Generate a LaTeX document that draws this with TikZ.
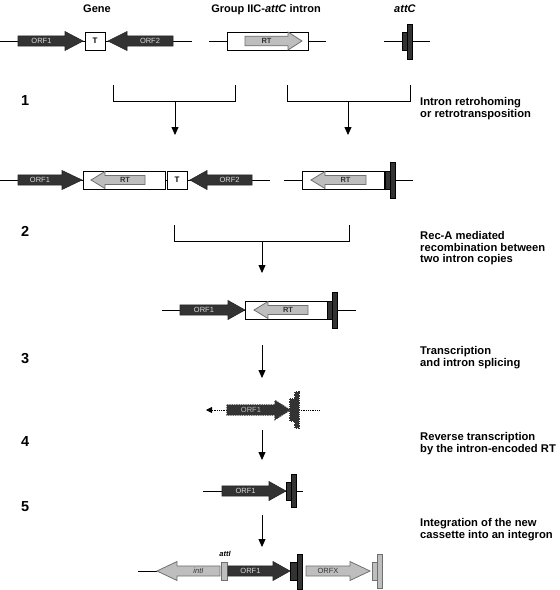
\documentclass[tikz,border=0pt]{standalone}
\usepackage{fontspec}
\setmainfont{Liberation Sans}
\usetikzlibrary{arrows.meta}
\definecolor{dark}{HTML}{333333}
\definecolor{light}{HTML}{BEBEBE}
\definecolor{lightline}{HTML}{707070}
\tikzset{
  dna/.style={black,line width=0.8pt},
  orfdk/.style={draw=black!85,fill=dark,line width=0.6pt},
  orfdklbl/.style={text=white!85!black,font=\fontsize{7.5}{8}\selectfont,inner sep=0},
  orflt/.style={draw=lightline,fill=light,line width=0.8pt},
  orfltlbl/.style={text=black!80,font=\fontsize{7.5}{8}\selectfont,inner sep=0},
  orfdot/.style={draw=dark,fill=dark,line width=1.3pt,densely dotted},
  orfdotlbl/.style={text=white!75!black,font=\fontsize{7.5}{8}\selectfont,inner sep=0},
  dkbar/.style={draw=black,fill=dark,line width=0.6pt},
  ltbar/.style={draw=lightline,fill=light,line width=0.8pt},
  dotbar/.style={draw=dark,fill=dark,line width=1.3pt,densely dotted},
  intronbox/.style={draw=black,fill=white,line width=0.8pt},
  tbox/.style={draw=black,fill=white,line width=0.8pt,minimum width=20pt,minimum height=18pt,
               inner sep=0,font=\fontsize{8}{8}\selectfont\bfseries},
  steparr/.style={-{Triangle[length=8pt,width=7pt]},black,line width=0.8pt},
  bracket/.style={black,line width=0.8pt},
  head/.style={font=\fontsize{11}{12}\selectfont\bfseries,anchor=base},
  stepnum/.style={font=\fontsize{14.5}{15}\selectfont\bfseries,anchor=base west,inner sep=0},
  righttxt/.style={anchor=north west,align=left,inner sep=0,
                   font=\fontsize{11.2}{11.7}\selectfont\bfseries}
}
% #1 name, #2 style, #3 tail x, #4 head base x, #5 tip x, #6 y, #7 head half height, #8 label
\newcommand{\gene}[8]{%
  \draw[#2] (#3,#6-0.53*#7) -- (#4,#6-0.53*#7) -- (#4,#6-#7) -- (#5,#6)
    -- (#4,#6+#7) -- (#4,#6+0.53*#7) -- (#3,#6+0.53*#7) -- cycle;
  \node[#2lbl] (#1) at ({(#3+#4)/2},#6) {#8};
}

\begin{document}
\begin{tikzpicture}[x=1pt,y=-1pt]
  \useasboundingbox (0,0) rectangle (560,590);

  % headings
  \node[head] (hgene) at (97,12) {Gene};
  \node[head] (hintron) at (266,12) {Group IIC-\textit{attC} intron};
  \node[head] (hattc) at (405,12) {\textit{attC}};

  % row 0
  \draw[dna] (0,41) -- (192,41);
  \gene{g0a}{orfdk}{18}{65}{83}{41}{9.5}{ORF1}
  \node[tbox] (t0) at (95,41) {T};
  \gene{g0b}{orfdk}{173}{127}{108}{41}{9.5}{ORF2}
  \draw[dna] (209,41) -- (326,41);
  \draw[intronbox] (227,32) rectangle (308,50);
  \gene{rt0}{orflt}{245}{288}{302}{41}{9}{\bfseries RT}
  \draw[dna] (384,41) -- (430,41);
  \draw[dkbar] (402,32) rectangle (407,50);
  \draw[dkbar] (407,24) rectangle (412,59);

  % step 1
  \node[stepnum] (n1) at (21,105) {1};
  \draw[bracket] (113,85) |- (235,101) -- (235,85);
  \draw[bracket] (287,85) |- (410,101) -- (410,85);
  \coordinate (s1a) at (175,101); \coordinate (s1b) at (175,135);
  \coordinate (s1c) at (348,101); \coordinate (s1d) at (348,135);
  \draw[steparr] (s1a) -- (s1b);
  \draw[steparr] (s1c) -- (s1d);
  \node[righttxt] (txt1) at (420,97) {Intron retrohoming\\or retrotransposition};

  % row 1
  \draw[dna] (0,180) -- (270,180);
  \gene{g1a}{orfdk}{18}{62}{82}{180}{9.5}{ORF1}
  \draw[intronbox] (83,171) rectangle (165,189);
  \gene{rt1a}{orflt}{145}{105}{91}{180}{8.5}{\bfseries RT}
  \node[tbox] (t1) at (177,180) {T};
  \gene{g1b}{orfdk}{252}{207}{190}{180}{9.5}{ORF2}
  \draw[dna] (284,180) -- (413,180);
  \draw[intronbox] (302,171) rectangle (384,189);
  \gene{rt1b}{orflt}{366}{325}{311}{180}{8.5}{\bfseries RT}
  \draw[dkbar] (385,171) rectangle (390,189);
  \draw[dkbar] (390,162) rectangle (395,198);

  % step 2
  \node[stepnum] (n2) at (21,236) {2};
  \draw[bracket] (174,225) |- (349,241) -- (349,225);
  \coordinate (s2a) at (262,241); \coordinate (s2b) at (262,273);
  \draw[steparr] (s2a) -- (s2b);
  \node[righttxt] (txt2) at (420,231) {Rec-A mediated\\recombination between\\two intron copies};

  % row 2
  \draw[dna] (162,310) -- (356,310);
  \gene{g2a}{orfdk}{180}{228}{245}{310}{9.5}{ORF1}
  \draw[intronbox] (245,301) rectangle (327,319);
  \gene{rt2}{orflt}{308}{268}{254}{310}{8.5}{\bfseries RT}
  \draw[dkbar] (327,301) rectangle (332,319);
  \draw[dkbar] (332,292) rectangle (337,328);

  % step 3
  \node[stepnum] (n3) at (21,363) {3};
  \coordinate (s3a) at (262,345); \coordinate (s3b) at (262,378);
  \draw[steparr] (s3a) -- (s3b);
  \node[righttxt] (txt3) at (420,346) {Transcription\\and intron splicing};

  % row 3 (transcript)
  \coordinate (m3a) at (206,410); \coordinate (m3b) at (227,410);
  \coordinate (m3c) at (299,410); \coordinate (m3d) at (320,410);
  \draw[dna,densely dotted,{Triangle[length=6pt,width=6pt]}-] (m3a) -- (m3b);
  \draw[dna,densely dotted] (m3c) -- (m3d);
  \gene{g3}{orfdot}{227}{275}{290}{410}{9.5}{ORF1}
  \draw[dotbar] (290,399) rectangle (295,421);
  \draw[dotbar] (295,392) rectangle (299,428);

  % step 4
  \node[stepnum] (n4) at (21,446) {4};
  \coordinate (s4a) at (262,430); \coordinate (s4b) at (262,460);
  \draw[steparr] (s4a) -- (s4b);
  \node[righttxt] (txt4) at (420,432) {Reverse transcription\\by the intron-encoded RT};

  % row 4 (cDNA)
  \draw[dna] (203,491) -- (303,491);
  \gene{g4}{orfdk}{222}{269}{286}{491}{9.5}{ORF1}
  \draw[dkbar] (286,482) rectangle (291,500);
  \draw[dkbar] (291,474) rectangle (296,507);

  % step 5
  \node[stepnum] (n5) at (21,511) {5};
  \coordinate (s5a) at (262,515); \coordinate (s5b) at (262,547);
  \draw[steparr] (s5a) -- (s5b);
  \node[righttxt] (txt5) at (420,518) {Integration of the new\\cassette into an integron};

  % row 5 (integron)
  \draw[dna] (138,571) -- (157,571);
  \gene{g5a}{orflt}{220}{177}{157}{571}{9.5}{\itshape intI}
  \draw[ltbar] (221,562) rectangle (227,580);
  \node[font=\fontsize{7.5}{8}\selectfont\bfseries\itshape,inner sep=0] (atti) at (225,554) {attI};
  \gene{g5b}{orfdk}{228}{273}{290}{571}{9.5}{ORF1}
  \draw[dkbar] (290,562) rectangle (297,580);
  \draw[dkbar] (297,554) rectangle (302,589);
  \gene{g5c}{orflt}{306}{350}{370}{571}{9.5}{ORFX}
  \draw[ltbar] (372,562) rectangle (377,580);
  \draw[ltbar] (377,554) rectangle (382,588);
\end{tikzpicture}
\end{document}
